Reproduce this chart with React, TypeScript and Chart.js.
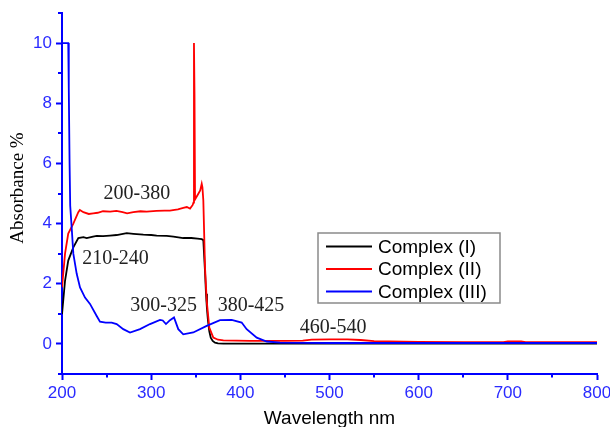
import React, { useEffect, useRef } from 'react';
import { Chart, registerables } from 'chart.js';

Chart.register(...registerables);

// ---- Data ----
const seriesNames = ['Complex (I)', 'Complex (II)', 'Complex (III)'];
const seriesColors = ['#000000', '#ff0000', '#0000ff'];

const wlI = [200, 203.4, 207, 212.7, 218.3, 224, 227.7, 234.8, 238.9, 246, 253.8, 261.3, 272.6, 280, 291.2, 300, 306.2, 317.4, 325, 336, 345, 352, 356.7, 358.5, 359.3, 360.4, 361.5, 362.6, 363.7, 365.2, 366.8, 369, 371.6, 375, 381, 400, 450, 500, 600, 700, 800];
const absI = [0.99, 2.1, 2.77, 3.21, 3.52, 3.55, 3.52, 3.57, 3.59, 3.58, 3.6, 3.62, 3.68, 3.66, 3.63, 3.62, 3.6, 3.59, 3.57, 3.52, 3.52, 3.5, 3.48, 3.45, 3.0, 2.4, 1.67, 1.15, 0.77, 0.42, 0.21, 0.1, 0.04, 0.02, 0.01, 0.01, 0.01, 0.01, 0.01, 0.01, 0.01];

const wlII = [200, 203.4, 207, 212.7, 218.3, 220, 224, 230, 235, 240, 246, 254, 261, 268, 273, 280, 288, 295, 306, 315, 321, 330, 336, 340, 343.6, 346.6, 347.4, 348, 348.6, 349.2, 352.9, 355, 356.7, 357.5, 358.5, 360.4, 362.3, 365.2, 369.7, 375, 381, 411, 450, 470, 480, 500, 520, 535, 550, 600, 650, 695, 700, 715, 720, 800];
const absII = [1.88, 3.0, 3.67, 4.0, 4.38, 4.45, 4.38, 4.32, 4.34, 4.36, 4.41, 4.4, 4.42, 4.38, 4.34, 4.38, 4.41, 4.4, 4.42, 4.43, 4.43, 4.47, 4.52, 4.55, 4.5, 4.62, 4.7, 10, 8.3, 4.8, 4.99, 5.1, 5.32, 5.2, 4.77, 2.54, 1.43, 0.54, 0.21, 0.14, 0.12, 0.1, 0.1, 0.11, 0.14, 0.15, 0.15, 0.13, 0.09, 0.07, 0.06, 0.06, 0.08, 0.08, 0.06, 0.06];

const wlIII = [200, 207, 207.6, 208.5, 209.2, 211, 212.7, 216.5, 220.2, 225.8, 231.4, 238.9, 242.6, 249, 255.7, 261.3, 268.7, 276.3, 287.5, 298.7, 309.9, 313, 316.6, 321.1, 325.6, 330.4, 336, 347.2, 362.3, 377.2, 390.3, 401.5, 407.1, 418.4, 429.6, 444.5, 500, 600, 700, 800];
const absIII = [10, 10, 8.5, 6, 4.6, 3.8, 3.0, 2.33, 1.88, 1.54, 1.33, 0.93, 0.74, 0.71, 0.71, 0.66, 0.49, 0.38, 0.49, 0.66, 0.8, 0.78, 0.66, 0.79, 0.88, 0.49, 0.32, 0.38, 0.6, 0.79, 0.8, 0.71, 0.49, 0.21, 0.08, 0.04, 0.03, 0.03, 0.03, 0.03];

const xTickValues = [200, 250, 300, 350, 400, 450, 500, 550, 600, 650, 700, 750, 800];
const xLabelValues = [200, 300, 400, 500, 600, 700, 800];
const yTickValues = [-1, 0, 1, 2, 3, 4, 5, 6, 7, 8, 9, 10, 11];
const yLabelValues = [0, 2, 4, 6, 8, 10];

const annotationLabels = ['200-380', '210-240', '300-325', '380-425', '460-540'];
const annotationWl = [284, 260, 314, 412, 504];
const annotationAbs = [5.0, 2.83, 1.27, 1.27, 0.53];

const xTitle = 'Wavelength nm';
const yTitle = 'Absorbance %';

const AXIS_BLUE = '#0000ff';
const LABEL_BLUE = '#2a2aff';
const SANS = '"Liberation Sans", Arial, sans-serif';
const SERIF = '"Liberation Serif", "Times New Roman", serif';

const toPoints = (xs: number[], ys: number[]) => xs.map((x, i) => ({ x, y: ys[i] }));

const extrasPlugin = {
  id: 'extras',
  afterDraw(chart: any) {
    const ctx = chart.ctx as CanvasRenderingContext2D;
    const xs = chart.scales.x;
    const ys = chart.scales.y;
    const area = chart.chartArea;
    ctx.save();
    // minor ticks
    ctx.strokeStyle = AXIS_BLUE;
    ctx.lineWidth = 2;
    ctx.beginPath();
    xTickValues.forEach((v) => {
      if (xLabelValues.includes(v)) return;
      const px = Math.round(xs.getPixelForValue(v));
      ctx.moveTo(px, area.bottom);
      ctx.lineTo(px, area.bottom + 3.5);
    });
    yTickValues.forEach((v) => {
      if (yLabelValues.includes(v)) return;
      const py = Math.round(ys.getPixelForValue(v));
      ctx.moveTo(area.left, py);
      ctx.lineTo(area.left - 4, py);
    });
    ctx.stroke();

    // annotations
    ctx.fillStyle = '#222222';
    ctx.font = `20px ${SERIF}`;
    ctx.textAlign = 'center';
    ctx.textBaseline = 'middle';
    annotationLabels.forEach((t, i) => {
      ctx.fillText(t, xs.getPixelForValue(annotationWl[i]), ys.getPixelForValue(annotationAbs[i]));
    });

    // axis titles
    ctx.fillStyle = '#000000';
    ctx.font = `19px ${SANS}`;
    ctx.textAlign = 'center';
    ctx.textBaseline = 'alphabetic';
    ctx.fillText(xTitle, (area.left + area.right) / 2, 424);

    ctx.save();
    ctx.translate(18, 188);
    ctx.rotate(-Math.PI / 2);
    ctx.font = `19px ${SERIF}`;
    ctx.textBaseline = 'middle';
    ctx.fillText(yTitle, 0, 0);
    ctx.restore();

    // legend box
    const bx = area.left + 256;
    const by = area.top + 220;
    const bw = 182;
    const bh = 70;
    ctx.fillStyle = '#ffffff';
    ctx.fillRect(bx, by, bw, bh);
    ctx.strokeStyle = '#8a8a8a';
    ctx.lineWidth = 1.5;
    ctx.strokeRect(bx, by, bw, bh);
    ctx.font = `19px ${SANS}`;
    ctx.textAlign = 'left';
    ctx.textBaseline = 'middle';
    chart.data.datasets.forEach((ds: any, i: number) => {
      const cy = by + 13.5 + i * 22.5;
      ctx.strokeStyle = ds.borderColor;
      ctx.lineWidth = 1.8;
      ctx.beginPath();
      ctx.moveTo(bx + 8, cy);
      ctx.lineTo(bx + 54, cy);
      ctx.stroke();
      ctx.fillStyle = '#000000';
      ctx.fillText(ds.label, bx + 60, cy + 1);
    });
    ctx.restore();
  },
};

export default function App() {
  const ref = useRef<HTMLCanvasElement | null>(null);
  useEffect(() => {
    if (!ref.current) return;
    const series = [
      toPoints(wlI, absI),
      toPoints(wlII, absII),
      toPoints(wlIII, absIII),
    ];
    const orders = [2, 1, 0];
    const chart = new Chart(ref.current, {
      type: 'line',
      data: {
        datasets: series.map((d, i) => ({
          label: seriesNames[i],
          data: d,
          borderColor: seriesColors[i],
          backgroundColor: seriesColors[i],
          borderWidth: 1.8,
          pointRadius: 0,
          tension: 0,
          fill: false,
          order: orders[i],
        })),
      },
      options: {
        animation: false,
        responsive: false,
        parsing: true,
        layout: { padding: { top: 13, right: 13, left: 0, bottom: 0 } },
        plugins: {
          legend: { display: false },
          tooltip: { enabled: false },
          title: { display: false },
        },
        scales: {
          x: {
            type: 'linear',
            min: 200,
            max: 800,
            afterBuildTicks: (s: any) => {
              s.ticks = xTickValues.map((v) => ({ value: v }));
            },
            afterFit: (s: any) => {
              s.height = 53;
              s.paddingRight = 0;
              s.paddingLeft = 0;
            },
            ticks: {
              autoSkip: false,
              maxRotation: 0,
              color: LABEL_BLUE,
              font: { family: SANS, size: 17 },
              padding: 3,
              callback: (v: any) => (xLabelValues.includes(Number(v)) ? String(v) : ''),
            },
            grid: {
              drawOnChartArea: false,
              drawTicks: true,
              tickLength: 6,
              tickWidth: 2,
              tickColor: (c: any) => (xLabelValues.includes(c.tick?.value) ? AXIS_BLUE : 'rgba(0,0,0,0)'),
            },
            border: { color: AXIS_BLUE, width: 2 },
          },
          y: {
            type: 'linear',
            min: -1,
            max: 11,
            afterBuildTicks: (s: any) => {
              s.ticks = yTickValues.map((v) => ({ value: v }));
            },
            afterFit: (s: any) => {
              s.width = 62;
              s.paddingTop = 0;
              s.paddingBottom = 0;
            },
            ticks: {
              autoSkip: false,
              color: LABEL_BLUE,
              font: { family: SANS, size: 17 },
              padding: 4,
              callback: (v: any) => (yLabelValues.includes(Number(v)) ? String(v) : ''),
            },
            grid: {
              drawOnChartArea: false,
              drawTicks: true,
              tickLength: 6,
              tickWidth: 2,
              tickColor: (c: any) => (yLabelValues.includes(c.tick?.value) ? AXIS_BLUE : 'rgba(0,0,0,0)'),
            },
            border: { color: AXIS_BLUE, width: 2 },
          },
        },
      },
      plugins: [extrasPlugin],
    } as any);
    return () => chart.destroy();
  }, []);
  return (
    <div style={{ position: 'absolute', left: 0, top: 0, width: 610, height: 427, background: '#ffffff' }}>
      <canvas ref={ref} width={610} height={427} style={{ display: 'block', width: 610, height: 427 }} />
    </div>
  );
}
